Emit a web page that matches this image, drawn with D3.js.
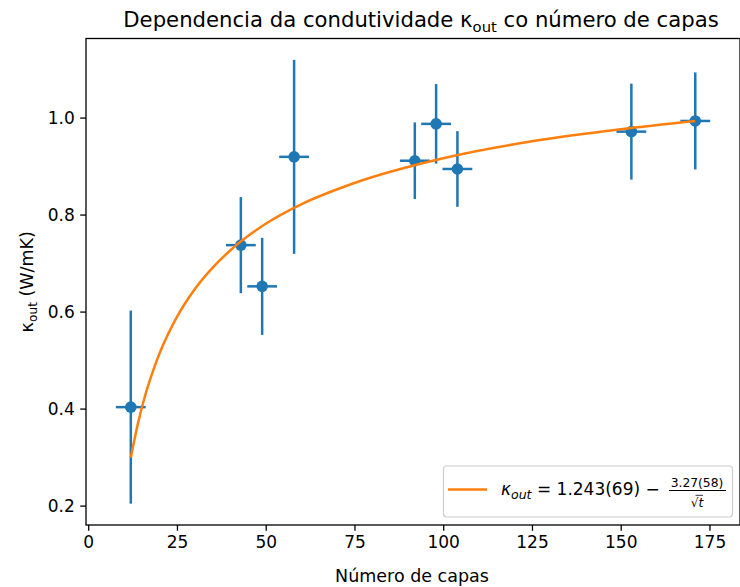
<!DOCTYPE html>
<html>
<head>
<meta charset="utf-8">
<script src="https://cdn.jsdelivr.net/npm/d3@7"></script>
<style>
  body { margin: 0; background: #fff; }
  text { font-family: "DejaVu Sans", sans-serif; fill: #000; }
</style>
</head>
<body>
<div id="chart"></div>
<script>

// measured points (number of layers vs kappa_out)
var capas    = [12, 43, 49, 58, 92, 98, 104, 153, 171];
var kappa    = [0.403, 0.737, 0.652, 0.919, 0.911, 0.987, 0.894, 0.971, 0.993];
var kappaErr = [0.199, 0.099, 0.100, 0.200, 0.079, 0.082, 0.078, 0.099, 0.100];
var capasErr = [4.2, 4.2, 4.2, 4.2, 4.2, 4.2, 4.2, 4.2, 4.2];

// fitted curve
var fitX = [12, 14, 16, 18, 20, 25, 30, 35, 40, 50, 60, 75, 100, 125, 150, 171];
var fitY = [0.299, 0.369, 0.426, 0.472, 0.512, 0.589, 0.646, 0.690, 0.726, 0.781, 0.821, 0.865, 0.916, 0.951, 0.976, 0.993];

var xTicks = [0, 25, 50, 75, 100, 125, 150, 175];
var yTicks = [0.2, 0.4, 0.6, 0.8, 1.0];

var width = 740, height = 587;
var margin = ({top: 38.5, right: 0, bottom: 62, left: 86});
var blue = "#1f77b4", orange = "#ff7f0e";
var fs = 17;

var svg = d3.select("#chart")
  .append("svg")
    .attr("width", width)
    .attr("height", height);

var xScale = d3.scaleLinear()
  .domain([-0.62, 183.6])
  .range([margin.left, width - margin.right]);

var yScale = d3.scaleLinear()
  .domain([0.160, 1.163])
  .range([height - margin.bottom, margin.top]);

// axes
var xAxis = svg.append("g")
    .attr("transform", `translate(0,${height - margin.bottom})`)
    .call(d3.axisBottom(xScale).tickValues(xTicks).tickSize(5.8).tickPadding(5.4).tickSizeOuter(0));

var yAxis = svg.append("g")
    .attr("transform", `translate(${margin.left},0)`)
    .call(d3.axisLeft(yScale).tickValues(yTicks).tickFormat(d3.format(".1f")).tickSize(5.8).tickPadding(5.4).tickSizeOuter(0));

[xAxis, yAxis].forEach(function(a) {
  a.select(".domain").remove();
  a.selectAll(".tick line").attr("stroke", "#000").attr("stroke-width", 1.3);
  a.selectAll(".tick text").attr("font-size", fs).attr("font-family", "DejaVu Sans").attr("fill", "#000");
});

var pts = capas.map((c, i) => ({x: c, y: kappa[i], ex: capasErr[i], ey: kappaErr[i]}));

// error bars
var eb = svg.append("g");
eb.selectAll(".ey").data(pts).join("line")
    .attr("x1", d => xScale(d.x)).attr("x2", d => xScale(d.x))
    .attr("y1", d => yScale(d.y - d.ey)).attr("y2", d => yScale(d.y + d.ey))
    .attr("stroke", blue).attr("stroke-width", 2.5);
eb.selectAll(".ex").data(pts).join("line")
    .attr("x1", d => xScale(d.x - d.ex)).attr("x2", d => xScale(d.x + d.ex))
    .attr("y1", d => yScale(d.y)).attr("y2", d => yScale(d.y))
    .attr("stroke", blue).attr("stroke-width", 2.5);
eb.selectAll("circle").data(pts).join("circle")
    .attr("cx", d => xScale(d.x)).attr("cy", d => yScale(d.y))
    .attr("r", 5.8).attr("fill", blue);

// fit curve
svg.append("path")
    .datum(fitX.map((x, i) => [x, fitY[i]]))
    .attr("fill", "none")
    .attr("stroke", orange)
    .attr("stroke-width", 2.5)
    .attr("d", d3.line().curve(d3.curveMonotoneX)
        .x(d => xScale(d[0]))
        .y(d => yScale(d[1])));

// frame
svg.append("rect")
    .attr("x", margin.left).attr("y", margin.top)
    .attr("width", width - margin.right - margin.left)
    .attr("height", height - margin.bottom - margin.top)
    .attr("fill", "none").attr("stroke", "#000").attr("stroke-width", 1.3);

// title
var title = svg.append("text")
    .attr("x", 421)
    .attr("y", 27)
    .attr("text-anchor", "middle")
    .attr("font-size", 21.2);
title.append("tspan").text("Dependencia da condutividade κ");
title.append("tspan").attr("font-size", 14.8).attr("dy", 4.5).text("out");
title.append("tspan").attr("dy", -4.5).text(" co número de capas");

// x label
svg.append("text")
    .attr("x", 412)
    .attr("y", 582)
    .attr("text-anchor", "middle")
    .attr("font-size", 17.5)
    .text("Número de capas");

// y label
var yl = svg.append("text")
    .attr("transform", `translate(33,${(margin.top + height - margin.bottom) / 2}) rotate(-90)`)
    .attr("text-anchor", "middle")
    .attr("font-size", 17.5);
yl.append("tspan").text("κ");
yl.append("tspan").attr("font-size", 12.2).attr("dy", 3.5).text("out");
yl.append("tspan").attr("dy", -3.5).text(" (W/mK)");

// legend
var lg = svg.append("g");
lg.append("rect")
    .attr("x", 443.5).attr("y", 466)
    .attr("width", 289).attr("height", 51)
    .attr("rx", 3)
    .attr("fill", "#fff").attr("fill-opacity", 0.8)
    .attr("stroke", "#cccccc").attr("stroke-width", 1.2);
lg.append("line")
    .attr("x1", 448).attr("x2", 487).attr("y1", 489.5).attr("y2", 489.5)
    .attr("stroke", orange).attr("stroke-width", 2.5);
var lt = lg.append("text").attr("x", 501).attr("y", 495).attr("font-size", 17);
lt.append("tspan").attr("font-style", "italic").text("κ");
lt.append("tspan").attr("font-style", "italic").attr("font-size", 12.5).attr("dy", 3.5).text("out");
lt.append("tspan").attr("dy", -3.5).text(" = 1.243(69) −");
lg.append("text")
    .attr("x", 697).attr("y", 486.5)
    .attr("text-anchor", "middle")
    .attr("font-size", 12.3)
    .text("3.27(58)");
lg.append("line")
    .attr("x1", 669).attr("x2", 726).attr("y1", 490.5).attr("y2", 490.5)
    .attr("stroke", "#000").attr("stroke-width", 1);
var den = lg.append("text")
    .attr("x", 697).attr("y", 507)
    .attr("text-anchor", "middle")
    .attr("font-size", 12.3);
den.append("tspan").text("√");
den.append("tspan").attr("font-style", "italic").text("t");
lg.append("line")
    .attr("x1", 695.5).attr("x2", 703).attr("y1", 495.3).attr("y2", 495.3)
    .attr("stroke", "#000").attr("stroke-width", 0.8);

</script>
</body>
</html>
